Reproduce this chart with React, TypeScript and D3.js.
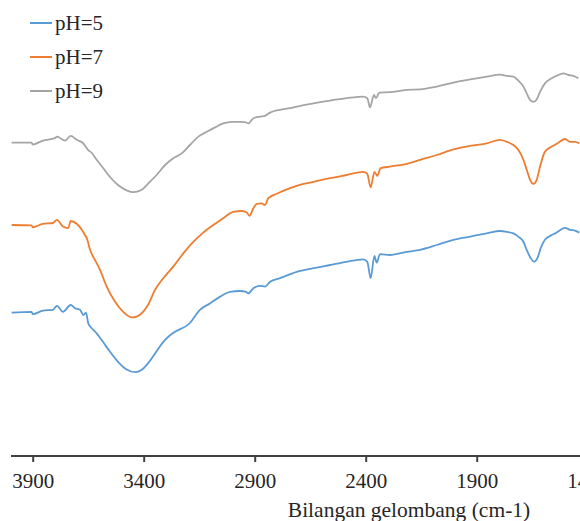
import React from 'react';
import * as d3 from 'd3';

// wavenumber (cm-1) / transmittance (arbitrary %)
const ph9: [number, number][] = [
  [3997, 78.1], [3907, 78.1], [3903, 77.6], [3856, 78.6], [3802, 79.2], [3793, 79.6], [3757, 78.6],
  [3731, 79.8], [3704, 78.8], [3676, 78.0], [3653, 76.3], [3636, 75.5], [3614, 73.8], [3586, 71.8],
  [3554, 69.5], [3518, 67.5], [3477, 66.1], [3450, 65.7], [3411, 66.3], [3383, 67.8], [3344, 70.0],
  [3306, 72.5], [3269, 74.2], [3231, 75.4], [3194, 77.5], [3156, 79.6], [3118, 80.8], [3081, 81.9],
  [3044, 82.9], [3006, 83.3], [2976, 83.3], [2946, 83.2], [2931, 82.9], [2908, 84.2], [2878, 84.6],
  [2856, 84.8], [2833, 85.6], [2788, 86.3], [2743, 86.7], [2713, 87.1], [2638, 87.9], [2563, 88.6],
  [2488, 89.2], [2413, 89.6], [2395, 89.2], [2383, 86.9], [2365, 90.0], [2356, 89.2], [2341, 90.6],
  [2293, 90.7], [2217, 91.3], [2157, 91.4], [2082, 92.1], [2007, 93.1], [1932, 93.9], [1857, 94.6],
  [1797, 95.1], [1767, 94.8], [1737, 94.6], [1715, 93.6], [1692, 92.1], [1677, 90.4], [1662, 88.8],
  [1647, 88.3], [1632, 88.9], [1617, 90.8], [1595, 92.9], [1564, 94.2], [1542, 94.8], [1512, 95.4],
  [1489, 95.0], [1467, 94.8], [1444, 94.2],
];

const ph7: [number, number][] = [
  [3997, 57.5], [3907, 57.4], [3902, 56.9], [3856, 57.8], [3811, 58.0], [3793, 58.8], [3766, 57.1],
  [3743, 56.7], [3731, 58.5], [3704, 57.8], [3681, 56.3], [3667, 55.0], [3659, 54.3], [3644, 51.3],
  [3622, 48.8], [3599, 46.3], [3569, 42.1], [3531, 38.3], [3495, 35.8], [3456, 34.4], [3434, 34.6],
  [3405, 35.8], [3383, 37.5], [3351, 41.3], [3314, 44.2], [3269, 47.1], [3224, 50.4], [3179, 53.3],
  [3134, 55.6], [3089, 57.5], [3044, 59.2], [2999, 60.8], [2961, 61.0], [2938, 60.6], [2926, 59.8],
  [2908, 61.7], [2893, 62.8], [2871, 62.9], [2856, 62.5], [2841, 64.2], [2803, 65.3], [2743, 66.7],
  [2713, 67.3], [2638, 68.3], [2563, 69.2], [2488, 70.0], [2413, 70.8], [2395, 70.3], [2380, 66.9],
  [2363, 70.8], [2350, 69.8], [2335, 71.7], [2293, 72.1], [2217, 72.8], [2157, 73.8], [2082, 75.0],
  [2007, 76.4], [1932, 77.3], [1857, 77.9], [1797, 78.8], [1767, 78.3], [1737, 77.5], [1715, 76.3],
  [1692, 73.8], [1677, 71.3], [1662, 68.8], [1647, 67.8], [1632, 68.8], [1617, 72.1], [1595, 75.8],
  [1564, 77.1], [1542, 77.8], [1504, 79.0], [1482, 78.3], [1459, 78.3], [1440, 77.9],
];

const ph5: [number, number][] = [
  [3997, 35.6], [3907, 35.8], [3902, 35.2], [3856, 36.1], [3811, 36.3], [3793, 37.3], [3766, 35.8],
  [3731, 37.5], [3712, 36.7], [3689, 36.3], [3674, 35.0], [3662, 35.6], [3652, 32.9], [3636, 31.7],
  [3614, 30.4], [3586, 28.3], [3554, 25.8], [3518, 23.3], [3479, 21.4], [3441, 20.7], [3411, 21.3],
  [3383, 22.9], [3306, 28.8], [3270, 30.5], [3194, 33.0], [3149, 36.3], [3104, 37.9], [3058, 39.6],
  [3013, 40.8], [2968, 41.0], [2941, 40.8], [2931, 40.4], [2908, 41.7], [2878, 42.3], [2856, 42.1],
  [2833, 43.3], [2788, 44.2], [2713, 45.8], [2638, 46.7], [2563, 47.5], [2488, 48.3], [2413, 48.9],
  [2395, 48.3], [2380, 44.2], [2363, 49.8], [2353, 48.1], [2338, 50.2], [2293, 50.0], [2217, 50.8],
  [2157, 51.3], [2082, 52.5], [2007, 53.8], [1932, 54.6], [1857, 55.4], [1797, 56.0], [1767, 55.8],
  [1737, 55.4], [1715, 54.6], [1692, 53.3], [1677, 51.3], [1659, 49.2], [1644, 48.3], [1629, 49.2],
  [1614, 51.7], [1595, 53.8], [1564, 55.0], [1549, 55.4], [1504, 56.8], [1482, 56.3], [1459, 56.1],
  [1440, 55.6],
];

const seriesNames = ['pH=5', 'pH=7', 'pH=9'];
const seriesData = [ph5, ph7, ph9];
const colors = ['#5B9BD5', '#ED7D31', '#A5A5A5'];
const xTicks = [3900, 3400, 2900, 2400, 1900, 1400];
const xTitle = 'Bilangan gelombang (cm-1)';

const App = () => {
  const width = 580;
  const height = 521;
  const axisY = 456;
  const textStyle = { fontFamily: "'Liberation Serif', 'Times New Roman', serif" };

  const x = d3.scaleLinear().domain([4000, 1437]).range([11, 580]);
  const y = d3.scaleLinear().domain([0, 100]).range([455, 55]);

  const line = d3.line<[number, number]>()
    .x(d => x(d[0]))
    .y(d => y(d[1]))
    .curve(d3.curveMonotoneX);

  return (
    <svg
      width={width}
      height={height}
      style={{ position: 'absolute', left: 0, top: 0, background: '#fff' }}
    >
      {seriesData.map((s, i) => (
        <path key={i} d={line(s) || ''} fill="none" stroke={colors[i]} strokeWidth={1.8} strokeLinejoin="round" />
      ))}

      {/* x axis */}
      <line x1={x(4000)} x2={width} y1={axisY} y2={axisY} stroke="#404040" strokeWidth={2} />
      {xTicks.map(t => (
        <g key={t} transform={`translate(${x(t)},${axisY})`}>
          <line y1={0} y2={6} stroke="#404040" strokeWidth={2} />
          <text y={32} textAnchor="middle" style={textStyle} fontSize={21} fill="#262626">{t}</text>
        </g>
      ))}
      <text x={409} y={517} textAnchor="middle" style={textStyle} fontSize={21.5} fill="#262626">{xTitle}</text>

      {/* legend */}
      {seriesNames.map((n, i) => (
        <g key={n} transform={`translate(30,${23 + i * 34})`}>
          <line x1={0} x2={22} y1={0} y2={0} stroke={colors[i]} strokeWidth={2} />
          <text x={25} y={7} style={textStyle} fontSize={21} fill="#262626">{n}</text>
        </g>
      ))}
    </svg>
  );
};

export default App;
